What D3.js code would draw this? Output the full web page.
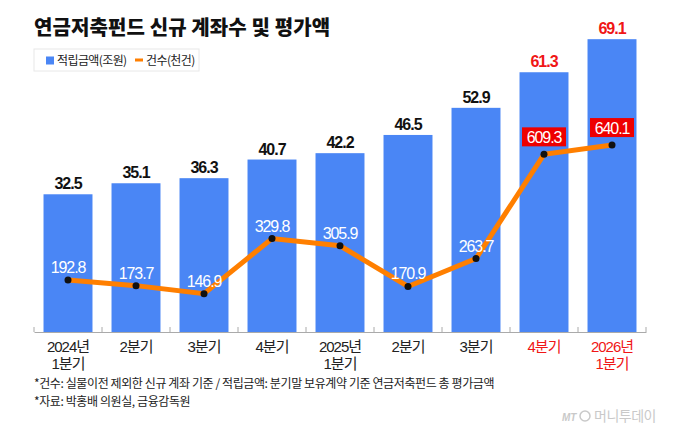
<!DOCTYPE html>
<html>
<head>
<meta charset="utf-8">
<script src="https://cdn.jsdelivr.net/npm/d3@7"></script>
<style>
  body { margin: 0; background: #fff; }
  svg { display: block; }
  text { font-family: "Liberation Sans", "Noto Sans CJK KR", sans-serif; }
  .kr { font-family: "Noto Sans CJK KR", sans-serif; }
</style>
</head>
<body>
<div id="chart"></div>
<script>
// Chart data
const categories = ["2024년\n1분기", "2분기", "3분기", "4분기", "2025년\n1분기", "2분기", "3분기", "4분기", "2026년\n1분기"];
const amountValues = [32.5, 35.1, 36.3, 40.7, 42.2, 46.5, 52.9, 61.3, 69.1];   // 적립금액(조원)
const countValues = [192.8, 173.7, 146.9, 329.8, 305.9, 170.9, 263.7, 609.3, 640.1]; // 건수(천건)
const highlighted = [7, 8]; // quarters drawn in red

const width = 680;
const height = 430;
const red = "#f01616";

const svg = d3.select("#chart")
  .append("svg")
  .attr("width", width)
  .attr("height", height);

// Title
svg.append("text")
  .attr("class", "kr")
  .attr("x", 34)
  .attr("y", 35)
  .attr("font-size", 20)
  .attr("font-weight", 900)
  .attr("letter-spacing", 0.1)
  .attr("fill", "#111")
  .text("연금저축펀드 신규 계좌수 및 평가액");

// Legend
const legend = svg.append("g");
legend.append("rect")
  .attr("x", 34).attr("y", 49)
  .attr("width", 165).attr("height", 22)
  .attr("fill", "#fff")
  .attr("stroke", "#e8e8e8");
legend.append("rect")
  .attr("x", 46).attr("y", 56.5)
  .attr("width", 8).attr("height", 8)
  .attr("fill", "#4a86f5");
legend.append("text")
  .attr("class", "kr")
  .attr("x", 57).attr("y", 64.5)
  .attr("font-size", 12)
  .attr("letter-spacing", -0.6)
  .attr("fill", "#222")
  .text("적립금액(조원)");
legend.append("rect")
  .attr("x", 135).attr("y", 58.5)
  .attr("width", 8).attr("height", 3)
  .attr("fill", "#ff7f00");
legend.append("text")
  .attr("class", "kr")
  .attr("x", 146).attr("y", 64.5)
  .attr("font-size", 12)
  .attr("letter-spacing", -0.6)
  .attr("fill", "#222")
  .text("건수(천건)");

// Scales
const x = d3.scaleBand()
  .domain(d3.range(categories.length))
  .range([34, 646])
  .paddingInner(0.28)
  .paddingOuter(0.14);

const yBar = d3.scaleLinear()
  .domain([0, 80])
  .range([332, -7]);

const yLine = d3.scaleLinear()
  .domain([0, 700])
  .range([338, 127]);

// Bars
svg.selectAll(".bar")
  .data(amountValues)
  .enter()
  .append("rect")
  .attr("class", "bar")
  .attr("x", (d, i) => x(i))
  .attr("y", d => yBar(d))
  .attr("width", x.bandwidth())
  .attr("height", d => yBar(0) - yBar(d))
  .attr("fill", "#4a86f5");

// Bar value labels
svg.selectAll(".bar-label")
  .data(amountValues)
  .enter()
  .append("text")
  .attr("class", "bar-label")
  .attr("x", (d, i) => x(i) + x.bandwidth() / 2)
  .attr("y", d => yBar(d) - 5)
  .attr("text-anchor", "middle")
  .attr("font-size", 16)
  .attr("letter-spacing", -1)
  .attr("font-weight", 700)
  .attr("fill", (d, i) => highlighted.includes(i) ? red : "#111")
  .text(d => d.toFixed(1));

// X axis
const xAxis = d3.axisBottom(x)
  .tickSize(0)
  .tickSizeOuter(0)
  .tickFormat(i => categories[i]);

const axisG = svg.append("g")
  .attr("transform", "translate(0,332)")
  .call(xAxis);

axisG.select(".domain").attr("stroke", "#aaa");

axisG.selectAll(".tick text")
  .attr("font-size", 15)
  .attr("letter-spacing", -1)
  .attr("fill", (i) => highlighted.includes(i) ? red : "#222")
  .each(function(i) {
    const lines = categories[i].split("\n");
    const t = d3.select(this).text("").attr("y", 0).attr("dy", null);
    lines.forEach((line, k) => {
      t.append("tspan")
        .attr("x", 0)
        .attr("y", 20 + k * 17)
        .text(line);
    });
  });

// Boundary ticks between quarters (pointing up from the axis)
const boundaries = d3.range(categories.length + 1)
  .map(i => x.range()[0] + i * x.step());
svg.selectAll(".sep")
  .data(boundaries)
  .enter()
  .append("line")
  .attr("class", "sep")
  .attr("x1", d => d).attr("x2", d => d)
  .attr("y1", 327).attr("y2", 332)
  .attr("stroke", "#aaa");

// Line series
const line = d3.line()
  .x((d, i) => x(i) + x.bandwidth() / 2)
  .y(d => yLine(d));

svg.append("path")
  .datum(countValues)
  .attr("d", line)
  .attr("fill", "none")
  .attr("stroke", "#ff7f00")
  .attr("stroke-width", 5)
  .attr("stroke-linejoin", "miter");

svg.selectAll(".dot")
  .data(countValues)
  .enter()
  .append("circle")
  .attr("class", "dot")
  .attr("cx", (d, i) => x(i) + x.bandwidth() / 2)
  .attr("cy", d => yLine(d))
  .attr("r", 3.5)
  .attr("fill", "#111");

// Line value labels (red boxes for the highlighted quarters)
const lineLabels = svg.selectAll(".line-label")
  .data(countValues)
  .enter()
  .append("g")
  .attr("class", "line-label")
  .attr("transform", (d, i) => `translate(${x(i) + x.bandwidth() / 2},${yLine(d)})`);

lineLabels.filter((d, i) => highlighted.includes(i))
  .append("rect")
  .attr("x", -22)
  .attr("y", -27)
  .attr("width", 44)
  .attr("height", 19)
  .attr("fill", "#ee0000");

lineLabels.append("text")
  .attr("text-anchor", "middle")
  .attr("y", (d, i) => highlighted.includes(i) ? -11.5 : -7)
  .attr("font-size", 16)
  .attr("letter-spacing", -1.1)
  .attr("fill", "#fff")
  .text(d => d.toFixed(1));

// Footnotes
const notes = [
  "*건수: 실물이전 제외한 신규 계좌 기준 / 적립금액: 분기말 보유계약 기준 연금저축펀드 총 평가금액",
  "*자료: 박홍배 의원실, 금융감독원"
];
svg.selectAll(".note")
  .data(notes)
  .enter()
  .append("text")
  .attr("class", "note kr")
  .attr("x", 34)
  .attr("y", (d, i) => 388 + i * 18)
  .attr("font-size", 12)
  .attr("letter-spacing", -0.4)
  .attr("fill", "#222")
  .text(d => d);

// Watermark
const mark = svg.append("g").attr("fill", "#c9c9c9");
mark.append("text")
  .attr("x", 562).attr("y", 421)
  .attr("font-size", 10)
  .attr("font-style", "italic")
  .attr("font-weight", 700)
  .text("MT");
mark.append("circle")
  .attr("cx", 585).attr("cy", 416).attr("r", 5)
  .attr("fill", "none")
  .attr("stroke", "#c9c9c9")
  .attr("stroke-width", 1.5);
mark.append("text")
  .attr("class", "kr")
  .attr("x", 594).attr("y", 421)
  .attr("font-size", 14)
  .attr("letter-spacing", -0.5)
  .text("머니투데이");
</script>
</body>
</html>
